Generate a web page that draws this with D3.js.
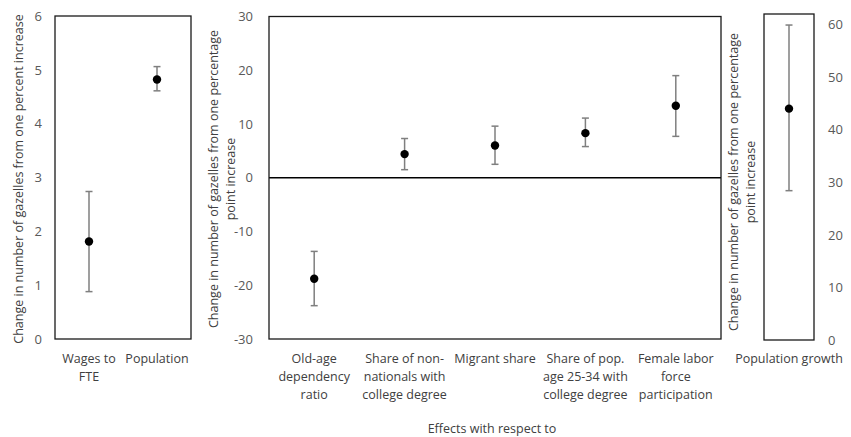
<!DOCTYPE html>
<html>
<head>
<meta charset="utf-8">
<script src="https://cdn.jsdelivr.net/npm/d3@7/dist/d3.min.js"></script>
<style>
  body { margin: 0; background: #fff; }
  svg text { font-family: "Open Sans", "Noto Sans", sans-serif; }
</style>
</head>
<body>
<svg id="chart" width="851" height="437"></svg>
<script>
// Panel 1: elasticities (one percent increase)
const pctCategories = [["Wages to", "FTE"], ["Population"]];
const pctEstimate = [1.81, 4.82];
const pctLower = [0.88, 4.61];
const pctUpper = [2.74, 5.06];
const pctTicks = [0, 1, 2, 3, 4, 5, 6];

// Panel 2: percentage point effects
const ppCategories = [
  ["Old-age", "dependency", "ratio"],
  ["Share of non-", "nationals with", "college degree"],
  ["Migrant share"],
  ["Share of pop.", "age 25-34 with", "college degree"],
  ["Female labor", "force", "participation"]
];
const ppEstimate = [-18.8, 4.4, 6.0, 8.3, 13.4];
const ppLower = [-23.8, 1.5, 2.5, 5.8, 7.7];
const ppUpper = [-13.7, 7.3, 9.6, 11.1, 19.0];
const ppTicks = [-30, -20, -10, 0, 10, 20, 30];

// Panel 3: population growth
const growthCategories = [["Population growth"]];
const growthEstimate = [44.0];
const growthLower = [28.4];
const growthUpper = [59.9];
const growthTicks = [0, 10, 20, 30, 40, 50, 60];

const svg = d3.select("#chart");
const tickColor = "#595959";
const textColor = "#404040";
const barColor = "#7f7f7f";

function drawPanel(opts) {
  const { x0, x1, y0, y1, domain, ticks, cats, est, lo, hi, side, capW } = opts;
  const g = svg.append("g");
  const x = d3.scaleBand().domain(d3.range(cats.length)).range([x0, x1]);
  const y = d3.scaleLinear().domain(domain).range([y1, y0]);

  // tick labels (plain hyphen for negatives)
  const axis = (side === "right" ? d3.axisRight(y) : d3.axisLeft(y))
    .tickValues(ticks).tickSize(0).tickPadding(opts.pad)
    .tickFormat(d => String(d));
  const ax = g.append("g")
    .attr("transform", `translate(${side === "right" ? x1 : x0},0)`)
    .call(axis);
  ax.select(".domain").remove();
  ax.selectAll("text").attr("fill", tickColor).style("font-size", "13px")
    .style("font-family", "'Open Sans', sans-serif");

  // zero line
  if (domain[0] < 0) {
    g.append("line").attr("x1", x0).attr("x2", x1)
      .attr("y1", y(0)).attr("y2", y(0))
      .attr("stroke", "#000").attr("stroke-width", 1.3);
  }

  // plot frame
  g.append("rect").attr("x", x0).attr("y", y0)
    .attr("width", x1 - x0).attr("height", y1 - y0)
    .attr("fill", "none").attr("stroke", "#1a1a1a").attr("stroke-width", 1.3);

  // error bars
  const cx = i => x(i) + x.bandwidth() / 2;
  const eb = g.selectAll(".eb").data(d3.range(cats.length)).enter().append("g");
  eb.append("line").attr("x1", cx).attr("x2", cx)
    .attr("y1", i => y(lo[i])).attr("y2", i => y(hi[i]))
    .attr("stroke", barColor).attr("stroke-width", 1.5);
  [lo, hi].forEach(arr => {
    eb.append("line").attr("x1", i => cx(i) - capW).attr("x2", i => cx(i) + capW)
      .attr("y1", i => y(arr[i])).attr("y2", i => y(arr[i]))
      .attr("stroke", barColor).attr("stroke-width", 1.5);
  });
  eb.append("circle").attr("cx", cx).attr("cy", i => y(est[i])).attr("r", 4.2)
    .attr("fill", "#000");

  // category labels
  cats.forEach((lines, i) => {
    const t = g.append("text").attr("text-anchor", "middle")
      .attr("fill", textColor).style("font-size", "12.5px");
    lines.forEach((ln, k) => {
      t.append("tspan").attr("x", cx(i)).attr("y", 363 + k * 18).text(ln);
    });
  });
  return { x, y };
}

drawPanel({ x0: 55, x1: 191, y0: 16, y1: 339, domain: [0, 6], ticks: pctTicks,
  cats: pctCategories, est: pctEstimate, lo: pctLower, hi: pctUpper, side: "left", pad: 13, capW: 3.5 });
drawPanel({ x0: 269, x1: 721, y0: 16.5, y1: 339, domain: [-30, 30], ticks: ppTicks,
  cats: ppCategories, est: ppEstimate, lo: ppLower, hi: ppUpper, side: "left", pad: 16, capW: 3.5 });
drawPanel({ x0: 764, x1: 814, y0: 14, y1: 340, domain: [0, 62], ticks: growthTicks,
  cats: growthCategories, est: growthEstimate, lo: growthLower, hi: growthUpper, side: "right", pad: 14, capW: 3.5 });

// axis titles
function vTitle(cx, cy, lines) {
  const t = svg.append("text").attr("text-anchor", "middle").attr("fill", textColor)
    .style("font-size", "12.5px")
    .attr("transform", `translate(${cx},${cy}) rotate(-90)`);
  lines.forEach((ln, k) => {
    t.append("tspan").attr("x", 0).attr("y", (k - (lines.length - 1) / 2) * 17 + 4).text(ln);
  });
}
vTitle(19, 179, ["Change in number of gazelles from one percent increase"]);
vTitle(222, 179, ["Change in number of gazelles from one percentage", "point increase"]);
vTitle(742, 182, ["Change in number of gazelles from one percentage", "point increase"]);

svg.append("text").attr("x", 492).attr("y", 433).attr("text-anchor", "middle")
  .attr("fill", textColor).style("font-size", "12.5px").text("Effects with respect to");
</script>
</body>
</html>
